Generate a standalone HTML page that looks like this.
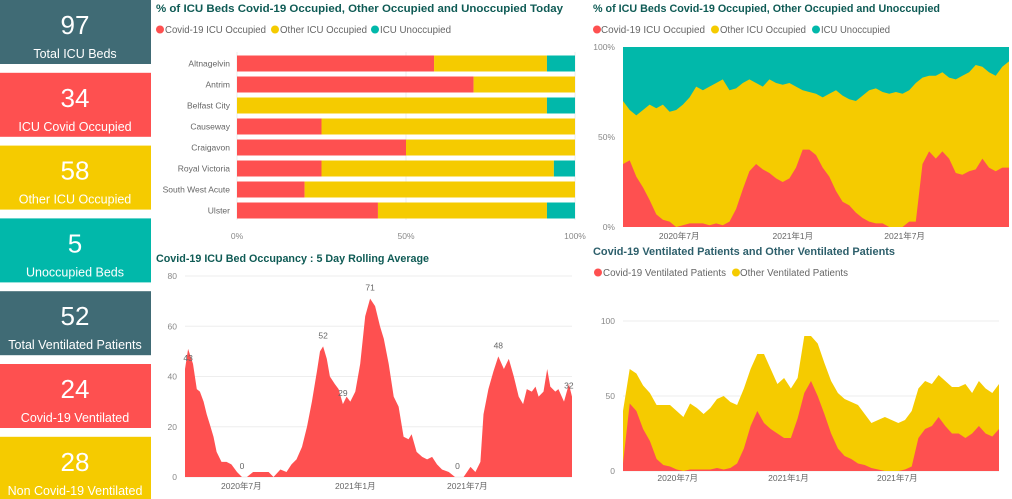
<!DOCTYPE html>
<html><head><meta charset="utf-8"><style>
html,body{margin:0;padding:0;background:#fff;}
svg{display:block;font-family:"Liberation Sans","Noto Sans CJK SC",sans-serif;}
</style></head><body>
<svg id="dash" width="1012" height="499" viewBox="0 0 1012 499">
<g id="cards"></g>
<g id="bar"></g>
<g id="area"></g>
<g id="pct"></g>
<g id="vent"></g>
</svg>
<script>
const RED="#fe5050",YEL="#f5cb00",TEAL="#01b8aa",SLATE="#406b75",GRID="#eeeeee",TICK="#888";
// KPI cards
const cardValues=["97","34","58","5","52","24","28"];
const cardLabels=["Total ICU Beds","ICU Covid Occupied","Other ICU Occupied","Unoccupied Beds","Total Ventilated Patients","Covid-19 Ventilated","Non Covid-19 Ventilated"];
const cardColors=[SLATE,RED,YEL,TEAL,SLATE,RED,YEL];
// Bar chart
const hospitals=["Altnagelvin","Antrim","Belfast City","Causeway","Craigavon","Royal Victoria","South West Acute","Ulster"];
const covidPct=[58.3,70,0,25,50,25,20,41.7];
const otherPct=[33.4,30,91.7,75,50,68.75,80,50];
const unoccPct=[8.3,0,8.3,0,0,6.25,0,8.3];
const barTicks=["0%","50%","100%"];
// Area chart (days since 2020-04-01)
const areaDays=[0,5,13,19,24,30,35,40,46,51,59,67,75,84,92,100,110,121,135,143,154,164,172,180,189,197,205,213,218,223,229,234,242,248,255,261,267,275,283,291,299,307,315,321,329,337,345,353,361,366,374,383,391,399,407,415,426,436,450,461,469,477,482,490,498,506,515,523,531,539,546,552,560,566,571,579,585,590,598,603,612,620,625];
const areaVals=[43,51,45,35,34,30,25,21,16,10,6,6,5,2,0,0,2,2,2,0,3,2,5,7,12,20,30,42,50,52,47,40,37,35,29,32,30,34,45,64,71,68,60,55,45,32,28,16,15,17,10,8,7,8,5,3,2,0,0,4,2,6,25,35,42,48,43,47,40,32,29,35,34,36,32,34,43,36,34,35,30,37,32];
const areaLabelDays=[5,92,223,255,299,440,506,620];
const areaLabelText=["43","0","52","29","71","0","48","32"];
const areaLabelVals=[43,0,52,29,71,0,48,32];
const areaYTicks=[0,20,40,60,80];
const dateTicks=["2020年7月","2021年1月","2021年7月"];
const dateTickDays=[91,275,456];
// Percent chart
const pctRed=[35,37,28,22,15,7,4,3,0,1,2,2,2,1,2,1,3,10,21,31,35,32,30,27,25,27,33,43,43,40,33,28,20,14,12,8,5,3,2,2,0,0,0,3,3,35,42,38,42,38,30,29,31,32,38,33,31,33,33];
const pctOccTop=[70,65,62,65,68,66,68,64,65,68,72,78,76,78,80,82,76,77,80,82,80,78,82,80,79,80,78,76,75,74,72,74,76,73,71,70,73,76,77,75,74,75,74,76,80,83,84,84,86,83,82,84,86,90,89,86,84,89,92];
const pctTicks=["0%","50%","100%"];
// Ventilated chart
const ventCovid=[5,45,40,28,20,8,4,3,1,0,1,1,1,1,2,1,2,5,15,30,40,32,28,25,22,22,35,52,60,50,38,25,15,10,8,5,4,2,1,0,0,0,1,3,22,28,30,36,30,25,25,22,25,30,25,23,28];
const ventTotal=[40,68,65,57,52,44,44,44,40,36,45,42,38,42,48,50,46,44,55,68,78,78,68,58,62,55,62,90,90,85,72,60,52,48,46,44,38,32,34,36,34,32,34,40,55,60,58,64,60,56,56,58,52,60,55,52,58];
const ventTicks=[0,50,100];

const NS="http://www.w3.org/2000/svg";
function mk(tag,parent,attrs,text){const e=document.createElementNS(NS,tag);for(const k in attrs)e.setAttribute(k,attrs[k]);if(text!==undefined)e.textContent=text;parent.appendChild(e);return e;}
function title(g,x,y,t,len,col){const e=mk('text',g,{x:x,y:y,'font-size':11,'font-weight':'bold',fill:col,textLength:len,lengthAdjust:'spacingAndGlyphs'},t);

}
// items: [label, colour, circleCx, textStart, textEnd]
function legend(g,y,items){items.forEach(it=>{const lg=mk('g',g,{});


mk('circle',lg,{cx:it[2],cy:y-3.5,r:4,fill:it[1]});
mk('text',lg,{x:it[3],y:y,'font-size':10,fill:'#666',textLength:it[4]-it[3],lengthAdjust:'spacingAndGlyphs'},it[0]);});}

// Cards
(function(){const g=document.getElementById('cards');
cardValues.forEach((v,i)=>{const top=i*72.8;const cg=mk('g',g,{});


mk('rect',cg,{x:0,y:top,width:151,height:64,fill:cardColors[i]});
const n=mk('text',cg,{x:75,y:top+34,'text-anchor':'middle','font-size':26,fill:'#fff'},v);


const l=mk('text',cg,{x:75,y:top+58,'text-anchor':'middle','font-size':12.5,fill:'#fff'},cardLabels[i]);

});})();

// Bar chart
(function(){const g=document.getElementById('bar');
title(g,156,12,"% of ICU Beds Covid-19 Occupied, Other Occupied and Unoccupied Today",407,"#0f5b55");
legend(g,33,[["Covid-19 ICU Occupied",RED,160,165,266],["Other ICU Occupied",YEL,275,280,367],["ICU Unoccupied",TEAL,375,380,451]]);
const x0=237,x1=575,X=p=>x0+(x1-x0)*p/100;
[0,50,100].forEach((p,i)=>{mk('line',g,{x1:X(p),x2:X(p),y1:52,y2:220,stroke:GRID,'stroke-width':1});
const t=mk('text',g,{x:X(p),y:239,'text-anchor':'middle','font-size':8.5,fill:TICK},barTicks[i]);

});
hospitals.forEach((h,i)=>{const cy=63.5+i*21,hh=16;let acc=0;
const l=mk('text',g,{x:230,y:cy+3,'text-anchor':'end','font-size':8.5,fill:'#666'},h);


[[covidPct[i],RED],[otherPct[i],YEL],[unoccPct[i],TEAL]].forEach(s=>{if(s[0]<=0)return;
const r=mk('rect',g,{x:X(acc),y:cy-hh/2,width:X(acc+s[0])-X(acc),height:hh,fill:s[1]});

acc+=s[0];});});})();

// Area chart
(function(){const g=document.getElementById('area');
title(g,156,262,"Covid-19 ICU Bed Occupancy : 5 Day Rolling Average",273,"#0f5b55");
const x0=185,x1=572,y0=477,y1=276,D=625;
const X=d=>x0+(x1-x0)*d/D,Y=v=>y0-(y0-y1)*v/80;
areaYTicks.forEach(v=>{mk('line',g,{x1:x0,x2:x1,y1:Y(v),y2:Y(v),stroke:GRID});
const t=mk('text',g,{x:177,y:Y(v)+3,'text-anchor':'end','font-size':8.5,fill:TICK},v);

});
let d="M"+X(areaDays[0])+","+Y(0);
areaDays.forEach((dd,i)=>{d+=" L"+X(dd).toFixed(1)+","+Y(areaVals[i]).toFixed(1);});
d+=" L"+X(areaDays[areaDays.length-1])+","+Y(0)+" Z";
const a=mk('path',g,{d:d,fill:RED});


areaLabelDays.forEach((dd,i)=>{const t=mk('text',g,{x:X(dd),y:Y(areaLabelVals[i])-8,'text-anchor':'middle','font-size':8.5,fill:'#666'},areaLabelText[i]);

});
dateTicks.forEach((s,i)=>{const t=mk('text',g,{x:X(dateTickDays[i]),y:489,'text-anchor':'middle','font-size':8.5,fill:'#666'},s);

});})();

function stacked(g,x0,x1,y0,y1,max,lower,upper,topFill,bgFill){
const n=lower.length,X=i=>x0+(x1-x0)*i/(n-1),Y=v=>y0-(y0-y1)*v/max;
if(bgFill){const b=mk('rect',g,{x:x0,y:y1,width:x1-x0,height:y0-y1,fill:bgFill});

}
let du="M"+x0+","+y0;upper.forEach((v,i)=>du+=" L"+X(i).toFixed(1)+","+Y(v).toFixed(1));du+=" L"+x1+","+y0+" Z";
const u=mk('path',g,{d:du,fill:topFill});


let dl="M"+x0+","+y0;lower.forEach((v,i)=>dl+=" L"+X(i).toFixed(1)+","+Y(v).toFixed(1));dl+=" L"+x1+","+y0+" Z";
const l=mk('path',g,{d:dl,fill:RED});

}

// Percent chart
(function(){const g=document.getElementById('pct');
title(g,593,12,"% of ICU Beds Covid-19 Occupied, Other Occupied and Unoccupied",347,"#0f5b55");
legend(g,33,[["Covid-19 ICU Occupied",RED,597,601,705],["Other ICU Occupied",YEL,715,720,806],["ICU Unoccupied",TEAL,816,821,890]]);
stacked(g,623,1009,227,47,100,pctRed,pctOccTop,YEL,TEAL);
[0,50,100].forEach((v,i)=>{const t=mk('text',g,{x:615,y:227-1.8*v+3,'text-anchor':'end','font-size':8.5,fill:TICK},pctTicks[i]);

});
const X=d=>623+(1009-623)*d/625;
dateTicks.forEach((s,i)=>{const t=mk('text',g,{x:X(dateTickDays[i]),y:239,'text-anchor':'middle','font-size':8.5,fill:'#666'},s);

});})();

// Ventilated chart
(function(){const g=document.getElementById('vent');
title(g,593,255,"Covid-19 Ventilated Patients and Other Ventilated Patients",302,"#2d5f6b");
legend(g,276,[["Covid-19 Ventilated Patients",RED,598,603,726],["Other Ventilated Patients",YEL,736,740,848]]);
const y0=471,Y=v=>y0-1.5*v;
ventTicks.forEach(v=>{mk('line',g,{x1:623,x2:999,y1:Y(v),y2:Y(v),stroke:GRID});
const t=mk('text',g,{x:615,y:Y(v)+3,'text-anchor':'end','font-size':8.5,fill:TICK},v);

});
stacked(g,623,999,471,321,100,ventCovid,ventTotal,YEL,null);
const X=d=>623+(999-623)*d/625;
dateTicks.forEach((s,i)=>{const t=mk('text',g,{x:X(dateTickDays[i]),y:481,'text-anchor':'middle','font-size':8.5,fill:'#666'},s);

});})();
</script>
</body></html>
